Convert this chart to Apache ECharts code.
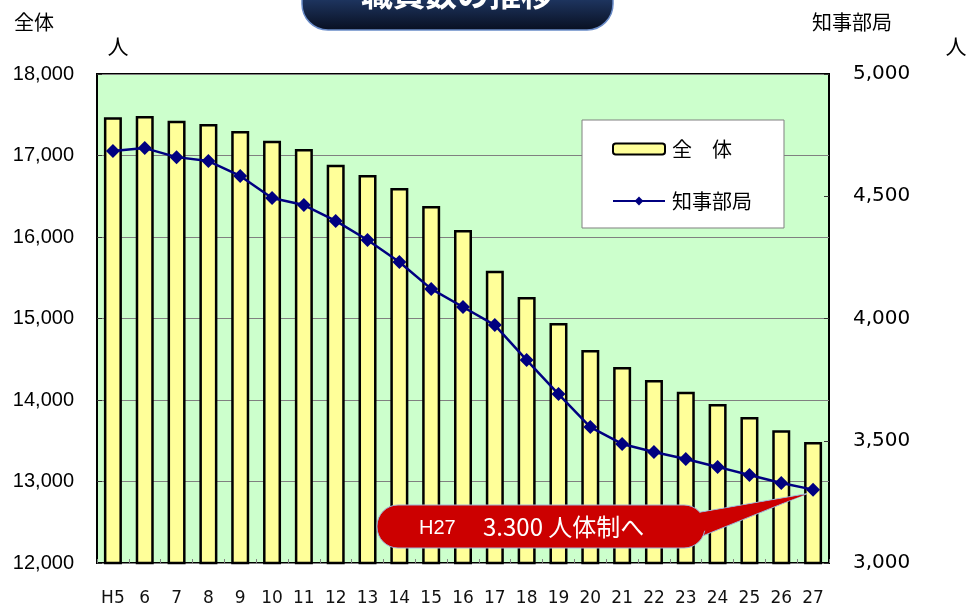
<!DOCTYPE html>
<html><head><meta charset="utf-8">
<script src="https://cdn.jsdelivr.net/npm/echarts@6/dist/echarts.min.js"></script>
<style>html,body{margin:0;padding:0;background:#fff}#c{width:971px;height:608px}</style>
</head><body><div id="c"></div>
<script>
const categories = ['H5','6','7','8','9','10','11','12','13','14','15','16','17','18','19','20','21','22','23','24','25','26','27'];
const totalStaff = [17470,17485,17425,17385,17300,17180,17080,16885,16760,16600,16380,16085,15585,15265,14945,14615,14405,14245,14100,13950,13790,13630,13485];
const governorDept = [4685,4697,4660,4644,4583,4493,4464,4399,4321,4231,4121,4047,3973,3830,3691,3556,3487,3454,3425,3393,3360,3327,3300];
const leftTicks = {min:12000, max:18000, interval:1000};
const rightTicks = {min:3000, max:5000, interval:500};
const seriesNames = ['全\u3000体','知事部局'];
const title = '職員数の推移';
const calloutPrefix = 'H27';
const calloutText = '3.300 人体制へ';

const JP = '"Noto Sans CJK JP", sans-serif';
const chart = echarts.init(document.getElementById('c'));
chart.setOption({
  animation:false,
  grid:{left:97,right:142,top:74,bottom:45,show:true,backgroundColor:'#ccffcc',borderColor:'#000',borderWidth:2,containLabel:false},
  legend:{
    orient:'vertical',left:582,top:120,
    backgroundColor:'#fff',borderColor:'#808080',borderWidth:1,
    padding:[19,32,17,30],itemGap:32,itemWidth:52,itemHeight:11,
    textStyle:{fontFamily:JP,fontSize:20,color:'#000',padding:[0,0,0,2]},
    data:seriesNames
  },
  xAxis:{type:'category',data:categories,
    axisLine:{show:false},
    axisTick:{show:true,inside:true,length:4,lineStyle:{color:'#808080'}},
    axisLabel:{fontFamily:'DejaVu Sans',fontSize:17,color:'#111',margin:27,interval:0}
  },
  yAxis:[
    {type:'value',min:leftTicks.min,max:leftTicks.max,interval:leftTicks.interval,
     axisLine:{show:false},axisTick:{show:true,inside:true,length:5,lineStyle:{color:'#333'}},
     splitLine:{show:true,lineStyle:{color:'#808080',width:1}},
     axisLabel:{fontFamily:'Liberation Sans',fontSize:20,color:'#000',margin:23,
       formatter:v=>v.toLocaleString('en-US')}},
    {type:'value',min:rightTicks.min,max:rightTicks.max,interval:rightTicks.interval,
     axisLine:{show:false},axisTick:{show:true,inside:true,length:5,lineStyle:{color:'#333'}},
     splitLine:{show:false},
     axisLabel:{fontFamily:'DejaVu Sans',fontSize:20,color:'#000',margin:24,
       formatter:v=>v.toLocaleString('en-US')}}
  ],
  series:[
    {name:seriesNames[0],type:'bar',data:totalStaff,barWidth:18,yAxisIndex:0,
     itemStyle:{color:'#ffff99',borderColor:'#000',borderWidth:2.5}},
    {name:seriesNames[1],type:'line',data:governorDept,yAxisIndex:1,
     symbol:'diamond',symbolSize:14,z:5,
     lineStyle:{color:'#000080',width:2.5},itemStyle:{color:'#000080'}}
  ]
});

const tip = chart.convertToPixel({seriesIndex:1}, [categories.length-1, governorDept[governorDept.length-1]]);
chart.setOption({graphic:[
  {type:'rect',z:100,shape:{x:302,y:-32,width:311,height:62,r:26},
   style:{fill:new echarts.graphic.LinearGradient(0,0,0,1,[{offset:0,color:'#4a6aa0'},{offset:0.5,color:'#1e3560'},{offset:1,color:'#080f20'}]),stroke:'#6a8cc8',lineWidth:1.5}},
  {type:'text',z:101,x:457,y:-6,style:{text:title,fill:'#fff',font:'bold 32px '+JP,textAlign:'center',textVerticalAlign:'middle'}},
  {type:'text',z:101,x:14,y:22,style:{text:'全体',font:'20px '+JP,fill:'#000',textVerticalAlign:'middle'}},
  {type:'text',z:101,x:118,y:46,style:{text:'人',font:'21px '+JP,fill:'#000',textAlign:'center',textVerticalAlign:'middle'}},
  {type:'text',z:101,x:812,y:22,style:{text:'知事部局',font:'20px '+JP,fill:'#000',textVerticalAlign:'middle'}},
  {type:'text',z:101,x:956,y:46,style:{text:'人',font:'21px '+JP,fill:'#000',textAlign:'center',textVerticalAlign:'middle'}},
  {type:'polygon',z:100,shape:{points:[[690,514],[tip[0]-6,tip[1]+4],[700,537]]},
   style:{fill:'#cc0000',stroke:'#9fb3d8',lineWidth:1}},
  {type:'rect',z:101,shape:{x:377,y:505,width:328,height:43,r:21},
   style:{fill:'#cc0000',stroke:'#9fb3d8',lineWidth:1}},
  {type:'polygon',z:102,shape:{points:[[688,515],[tip[0]-8,tip[1]+5],[690,536]]},
   style:{fill:'#cc0000'}},
  {type:'text',z:110,x:419,y:528,style:{text:calloutPrefix,font:'20px "Liberation Sans", sans-serif',fill:'#fff',textVerticalAlign:'middle'}},
  {type:'text',z:110,x:483,y:527,style:{text:calloutText,font:'24px '+JP,fill:'#fff',textVerticalAlign:'middle'}}
]});
</script></body></html>
